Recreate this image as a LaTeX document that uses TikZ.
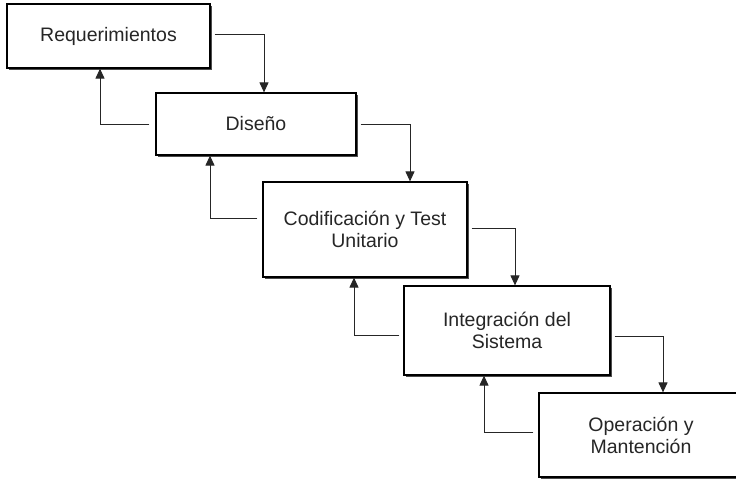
\documentclass[tikz,border=0pt]{standalone}
\usepackage{fontspec}
\setmainfont{Liberation Sans}
\usetikzlibrary{arrows.meta,shadows}

\tikzstyle{stage}=[draw,black,line width=1.2pt,fill=white,align=center,inner sep=0pt,
  font=\fontsize{19.5}{22}\selectfont,text=black!85,
  drop shadow={shadow xshift=2.4pt,shadow yshift=-2.4pt,fill=black!70,opacity=1}]
\tikzstyle{flow}=[black!85,line width=1pt,-{Triangle[width=9pt,length=10pt]}]

\begin{document}
\begin{tikzpicture}[x=1pt,y=-1pt]
    \useasboundingbox (0,0) rectangle (736,479);

    \node (req)[stage,minimum width=203pt,minimum height=64pt] at (108.5,36) {Requerimientos};
    \node (dis)[stage,minimum width=200pt,minimum height=62pt] at (256,124) {Diseño};
    \node (cod)[stage,minimum width=204pt,minimum height=95pt] at (365,229.5) {Codificación y Test\\Unitario};
    \node (int)[stage,minimum width=206pt,minimum height=89pt] at (507,330.5) {Integración del\\Sistema};
    \node (ope)[stage,minimum width=204pt,minimum height=84pt] at (641,435) {Operación y\\Mantención};

    % hacia abajo
    \draw[flow] ([xshift=4pt,yshift=2pt]req.east) -| ([xshift=8pt]dis.north);
    \draw[flow] ([xshift=4pt]dis.east) -| ([xshift=45pt]cod.north);
    \draw[flow] ([xshift=4pt,yshift=1.5pt]cod.east) -| ([xshift=8pt]int.north);
    \draw[flow] ([xshift=4pt,yshift=-5.5pt]int.east) -| ([xshift=22pt]ope.north);

    % hacia arriba
    \draw[flow] ([xshift=-6pt]dis.west) -| ([xshift=-8.5pt]req.south);
    \draw[flow] ([xshift=-5pt,yshift=11.5pt]cod.west) -| ([xshift=-46pt]dis.south);
    \draw[flow] ([xshift=-4pt,yshift=-4.5pt]int.west) -| ([xshift=-11pt]cod.south);
    \draw[flow] ([xshift=-5pt,yshift=3pt]ope.west) -| ([xshift=-23pt]int.south);
\end{tikzpicture}
\end{document}
